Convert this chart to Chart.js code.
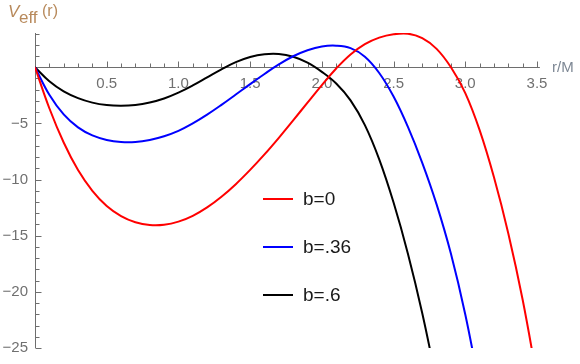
<!DOCTYPE html>
<html>
<head>
<meta charset="utf-8">
<script src="https://cdn.jsdelivr.net/npm/chart.js@4.4.1/dist/chart.umd.min.js"></script>
<style>
  html, body { margin: 0; padding: 0; background: #ffffff; }
  canvas { display: block; }
</style>
</head>
<body>
<canvas id="c" width="580" height="364"></canvas>
<script>
// ---- data ----
const seriesLabels = ["b=0", "b=.36", "b=.6"];
const seriesColors = ["#ff0000", "#0000ff", "#000000"];

const rRed = [0,0.1,0.2,0.3,0.4,0.5,0.6,0.7,0.8,0.9,1.0,1.1,1.2,1.3,1.4,1.5,1.6,1.7,1.8,1.9,2.0,2.1,2.2,2.3,2.4,2.5,2.6,2.7,2.8,2.9,3.0,3.1,3.2,3.3,3.4,3.5];
const vRed = [0,-3.65,-6.7,-9.15,-11.0,-12.35,-13.25,-13.8,-14.05,-14.03,-13.75,-13.23,-12.48,-11.53,-10.41,-9.14,-7.76,-6.28,-4.73,-3.15,-1.59,-0.11,1.14,2.06,2.64,2.94,2.99,2.59,1.64,0.0,-2.3,-5.6,-9.8,-14.8,-20.7,-27.7];

const rBlue = [0,0.1,0.2,0.3,0.4,0.5,0.6,0.7,0.8,0.9,1.0,1.1,1.2,1.3,1.4,1.5,1.6,1.7,1.8,1.9,2.0,2.1,2.2,2.3,2.4,2.5,2.6,2.7,2.8,2.9,3.0,3.1];
const vBlue = [0,-2.45,-4.2,-5.35,-6.07,-6.47,-6.65,-6.65,-6.47,-6.14,-5.66,-5.0,-4.22,-3.35,-2.43,-1.5,-0.6,0.25,0.98,1.52,1.85,1.92,1.7,0.94,-0.51,-2.61,-5.31,-8.51,-12.21,-16.61,-22.01,-28.5];

const rBlack = [0,0.1,0.2,0.3,0.4,0.5,0.6,0.7,0.8,0.9,1.0,1.1,1.2,1.3,1.4,1.5,1.6,1.7,1.8,1.9,2.0,2.1,2.2,2.3,2.4,2.5,2.6,2.7,2.8];
const vBlack = [0,-1.25,-2.15,-2.75,-3.15,-3.37,-3.43,-3.36,-3.14,-2.78,-2.26,-1.62,-0.9,-0.18,0.46,0.92,1.16,1.18,0.93,0.41,-0.41,-1.45,-2.95,-5.15,-8.2,-12.05,-16.6,-21.9,-28.0];

const xTickLabels = ["0.5","1.0","1.5","2.0","2.5","3.0","3.5"];
const yTickLabels = ["−5","−10","−15","−20","−25"];
const xAxisLabel = "r/M";

function pts(rs, vs) { return rs.map((r, i) => ({ x: r, y: vs[i] })); }

const AXIS = "#6e6e6e";
const TICKTXT = "#707070";
const FONT = "'Liberation Sans', Arial, sans-serif";

const decor = {
  id: 'decor',
  beforeDatasetsDraw(chart) {
    const ctx = chart.ctx, xs = chart.scales.x, ys = chart.scales.y;
    const y0 = Math.round(ys.getPixelForValue(0)) + 0.5;
    const x0 = Math.round(xs.getPixelForValue(0)) + 0.5;
    ctx.save();
    ctx.strokeStyle = AXIS;
    ctx.lineWidth = 1;
    ctx.beginPath();
    ctx.moveTo(x0, y0);
    ctx.lineTo(xs.getPixelForValue(3.52), y0);
    ctx.moveTo(x0, ys.getPixelForValue(-25));
    ctx.lineTo(x0, chart.chartArea.top);
    for (let k = 1; k <= 35; k++) {
      const px = Math.round(xs.getPixelForValue(k / 10)) + 0.5;
      const len = (k % 5 === 0) ? 6 : 4;
      ctx.moveTo(px, y0);
      ctx.lineTo(px, y0 - len);
    }
    for (let k = -25; k <= 3; k++) {
      if (k === 0) continue;
      const py = Math.round(ys.getPixelForValue(k)) + 0.5;
      const len = (k % 5 === 0) ? 6 : 4;
      ctx.moveTo(x0, py);
      ctx.lineTo(x0 + len, py);
    }
    ctx.stroke();
    ctx.restore();
  },
  afterDraw(chart) {
    const ctx = chart.ctx, xs = chart.scales.x, ys = chart.scales.y;
    ctx.save();
    ctx.fillStyle = "#b88a5c";
    ctx.textBaseline = "alphabetic";
    ctx.font = "italic 17px " + FONT;
    ctx.fillText("V", 8, 17);
    ctx.font = "17px " + FONT;
    ctx.fillText("eff", 19, 23);
    ctx.font = "16px " + FONT;
    ctx.fillText("(r)", 42, 16);
    ctx.fillStyle = "#7d8794";
    ctx.font = "15px " + FONT;
    ctx.fillText(xAxisLabel, xs.getPixelForValue(3.5) + 15, ys.getPixelForValue(0) + 5);
    chart.data.datasets.forEach((ds, i) => {
      const ly = 199 + 48 * i;
      ctx.strokeStyle = ds.borderColor;
      ctx.lineWidth = 2;
      ctx.beginPath();
      ctx.moveTo(263, ly);
      ctx.lineTo(293, ly);
      ctx.stroke();
      ctx.fillStyle = "#1a1a1a";
      ctx.font = "19px " + FONT;
      ctx.textBaseline = "middle";
      ctx.fillText(ds.label, 303, ly + 1);
    });
    ctx.restore();
  }
};

new Chart(document.getElementById('c'), {
  type: 'line',
  data: {
    datasets: [
      { label: seriesLabels[0], data: pts(rRed, vRed), borderColor: seriesColors[0] },
      { label: seriesLabels[1], data: pts(rBlue, vBlue), borderColor: seriesColors[1] },
      { label: seriesLabels[2], data: pts(rBlack, vBlack), borderColor: seriesColors[2] }
    ].map(d => Object.assign(d, { borderWidth: 2, pointRadius: 0, tension: 0.4, fill: false }))
  },
  options: {
    responsive: false,
    devicePixelRatio: 1,
    animation: false,
    layout: { padding: { top: 33, right: 43, bottom: 13, left: 0 } },
    plugins: { legend: { display: false }, tooltip: { enabled: false }, title: { display: false } },
    scales: {
      x: {
        type: 'linear', min: 0, max: 3.5,
        position: { y: 0 },
        grid: { display: false, drawTicks: false }, border: { display: false },
        ticks: {
          stepSize: 0.5, autoSkip: false, maxRotation: 0, padding: 8,
          color: TICKTXT, font: { family: FONT, size: 15 },
          callback: (v) => { const k = Math.round(v * 2); return k >= 1 && k <= 7 ? xTickLabels[k - 1] : ''; }
        }
      },
      y: {
        type: 'linear', min: -25, max: 3.05,
        position: 'left',
        grid: { display: false, drawTicks: false }, border: { display: false },
        afterFit: (s) => { s.width = 35; },
        ticks: {
          stepSize: 5, autoSkip: false, padding: 7,
          color: TICKTXT, font: { family: FONT, size: 15 },
          callback: (v) => { const k = Math.round(-v / 5); return (k >= 1 && k <= 5 && Math.abs(v + 5 * k) < 1e-6) ? yTickLabels[k - 1] : ''; }
        }
      }
    }
  },
  plugins: [decor]
});
</script>
</body>
</html>
